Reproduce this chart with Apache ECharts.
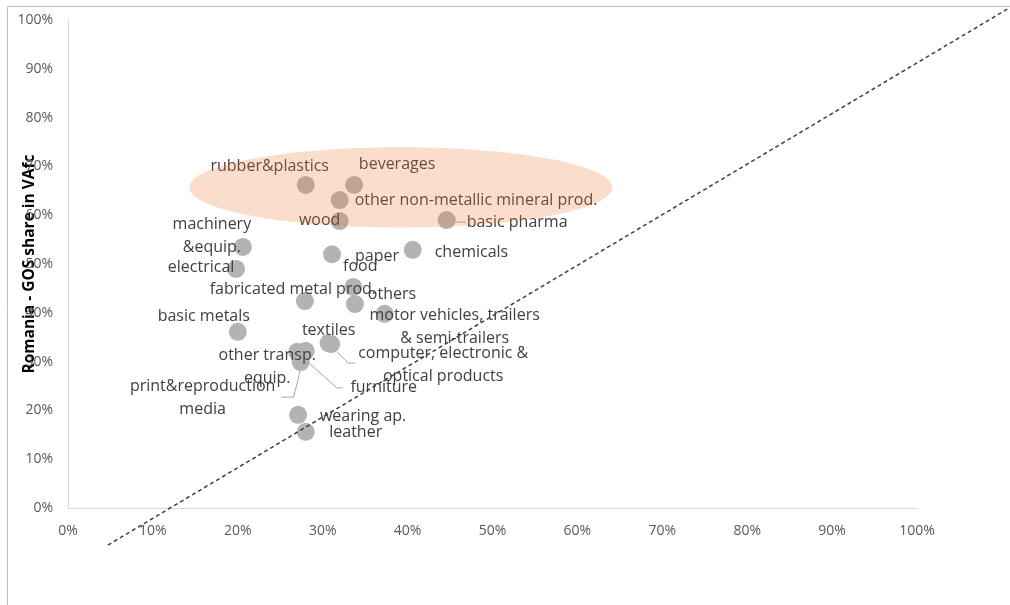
<!DOCTYPE html>
<html><head><meta charset="utf-8">
<script src="https://cdn.jsdelivr.net/npm/echarts@6/dist/echarts.min.js"></script>
<style>html,body{margin:0;padding:0;background:#fff}#c{width:1010px;height:605px}</style>
</head><body><div id="c"></div>
<script>
// ---- data ----
const industries = [
  'rubber&plastics','beverages','other non-metallic mineral prod.','wood','basic pharma',
  'machinery\n&equip.','paper','chemicals','electrical','food',
  'fabricated metal prod.','others','motor vehicles, trailers\n& semi-trailers','basic metals','textiles',
  'computer, electronic &\noptical products','other transp.\nequip.','furniture','print&reproduction\nmedia','wearing ap.',
  'leather'
];
const xShare = [28.0,33.7,32.0,32.0,44.6, 20.6,31.1,40.6,19.8,33.6, 27.9,33.8,37.3,20.0,30.7, 31.0,27.0,28.0,27.4,27.1, 28.0];
const romaniaShare = [66.2,66.2,63.1,58.8,59.0, 53.5,52.0,52.9,49.0,45.3, 42.4,41.8,39.8,36.1,33.8, 33.6,32.0,32.2,29.9,19.1, 15.6];
const axisTicks = [0,10,20,30,40,50,60,70,80,90,100];
const refLine = [[4.7,-7.6],[110.7,102.3]];
const highlightArea = [[39.2,65.7,24.9,8.2]]; // centre x, centre y, radius x, radius y (data units)

// ---- label placement (styles, kept apart from data) ----
const labelPlace = {
  'rubber&plastics':[ 'inside',[-36,-19]],
  'beverages':['inside',[43,-21]],
  'other non-metallic mineral prod.':['right',[1,0]],
  'wood':['inside',[-20,-1]],
  'basic pharma':['right',[6,2]],
  'machinery\n&equip.':['inside',[-31,-11]],
  'paper':['inside',[45,2]],
  'chemicals':['right',[8,3]],
  'electrical':['inside',[-35,-1]],
  'food':['inside',[7,-20]],
  'fabricated metal prod.':['inside',[-12,-12]],
  'others':['inside',[37,-10]],
  'motor vehicles, trailers\n& semi-trailers':['inside',[70,13]],
  'basic metals':['inside',[-34,-15]],
  'textiles':['inside',[0,-13]],
  'computer, electronic &\noptical products':['inside',[112,21]],
  'other transp.\nequip.':['inside',[-30,15]],
  'furniture':['inside',[78,37]],
  'print&reproduction\nmedia':['inside',[-98,36]],
  'wearing ap.':['inside',[65,2]],
  'leather':['inside',[50,1]]
};
const leaderShape = {
  'basic pharma':[[8,2],[19,2]],
  'computer, electronic &\noptical products':[[6,8],[17,19],[24,19]],
  'furniture':[[2,11],[31,37],[37,37]],
  'print&reproduction\nmedia':[[1,3],[-7,35],[-19,35]]
};

const FONT = '"Open Sans"';
const scatterData = industries.map((n,i)=>{
  const p = labelPlace[n];
  return {
    name:n, value:[xShare[i], romaniaShare[i]],
    label:{show:true, position:p[0], offset:p[1], formatter:n, align:p[0]==='right'?'left':'center'}
  };
});
const leaderData = industries.map((n,i)=>({name:n, value:[xShare[i], romaniaShare[i]]})).filter(d=>leaderShape[d.name]);

const chart = echarts.init(document.getElementById('c'), null, {renderer:'canvas'});
chart.setOption({
  animation:false,
  backgroundColor:'#fff',
  textStyle:{fontFamily:FONT},
  grid:{left:68,right:93,top:20,bottom:97,containLabel:false,outerBoundsMode:'none'},
  xAxis:{
    type:'value', min:axisTicks[0], max:axisTicks[axisTicks.length-1], interval:10,
    axisLine:{show:true, onZero:false, lineStyle:{color:'#d9d9d9',width:1}},
    axisTick:{show:false}, splitLine:{show:false},
    axisLabel:{formatter:'{value}%', color:'#595959', fontSize:14, margin:16, fontFamily:FONT}
  },
  yAxis:{
    type:'value', min:axisTicks[0], max:axisTicks[axisTicks.length-1], interval:10,
    name:'Romania - GOS share in VAfc', nameLocation:'middle', nameGap:30, nameMoveOverlap:false,
    nameTextStyle:{color:'#000', fontWeight:'bold', fontSize:15.5, fontFamily:FONT},
    axisLine:{show:true, lineStyle:{color:'#d9d9d9',width:1}},
    axisTick:{show:false}, splitLine:{show:false},
    axisLabel:{formatter:'{value}%', color:'#595959', fontSize:14, margin:15, fontFamily:FONT}
  },
  graphic:[{type:'rect', silent:true, z:-10, shape:{x:7.5,y:6.5,width:1100,height:700}, style:{fill:null, stroke:'#bfbfbf', lineWidth:1}}],
  series:[
    {
      type:'custom', name:'leaders', z:1, silent:true,
      data:leaderData,
      renderItem:(params, api)=>{
        const p = api.coord([api.value(0), api.value(1)]);
        const rel = leaderShape[leaderData[params.dataIndex].name];
        return {type:'polyline', shape:{points:rel.map(r=>[p[0]+r[0], p[1]+r[1]])},
          style:{stroke:'#a6a6a6', lineWidth:1, fill:null}};
      }
    },
    {
      type:'scatter', name:'industries', z:2, symbol:'circle', symbolSize:18,
      itemStyle:{color:'#b3b3b3', opacity:1},
      label:{color:'#404040', fontSize:16, lineHeight:23, verticalAlign:'middle', fontFamily:FONT},
      emphasis:{disabled:true},
      data:scatterData
    },
    {
      type:'custom', name:'ref', z:3, silent:true, clip:false,
      data:[refLine[0].concat(refLine[1])],
      renderItem:(params, api)=>{
        const a = api.coord([api.value(0), api.value(1)]);
        const b = api.coord([api.value(2), api.value(3)]);
        return {type:'line', shape:{x1:a[0], y1:a[1], x2:b[0], y2:b[1]},
          style:{stroke:'#404040', lineWidth:1.5, lineDash:[4,3]}};
      }
    },
    {
      type:'custom', name:'highlight', z:4, silent:true, clip:false,
      data:highlightArea,
      renderItem:(params, api)=>{
        const c = api.coord([api.value(0), api.value(1)]);
        const e = api.coord([api.value(0)+api.value(2), api.value(1)+api.value(3)]);
        return {type:'ellipse', shape:{cx:c[0], cy:c[1], rx:e[0]-c[0], ry:c[1]-e[1]},
          style:{fill:'rgba(237,125,49,0.25)'}};
      }
    }
  ]
});
</script></body></html>
